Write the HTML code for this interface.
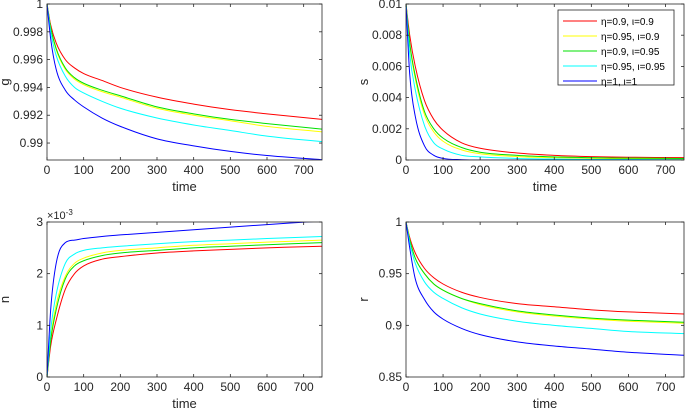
<!DOCTYPE html>
<html><head><meta charset="utf-8"><style>
body{margin:0;background:#fff;}
svg{display:block;font-family:"Liberation Sans",sans-serif;}
</style></head><body>
<svg id="c" width="685" height="409"></svg>
<script>
const times=[0,10,25,50,75,100,150,200,300,400,500,600,750];
const xTicks=[0,100,200,300,400,500,600,700];
const seriesNames=["η=0.9, ι=0.9","η=0.95, ι=0.9","η=0.9, ι=0.95","η=0.95, ι=0.95","η=1, ι=1"];
const colors=["#ff0000","#ffff00","#00e000","#00ffff","#0000ff"];
// g panel
const gRed=[1,.9985,.9972,.9960,.9954,.9950,.9945,.9940,.9933,.9928,.9924,.9921,.9917];
const gYellow=[1,.9983,.9967,.9953,.9946,.9942,.9937,.9933,.9925,.9920,.9916,.9912,.9908];
const gGreen=[1,.9983,.9968,.9954,.9947,.9943,.9938,.9934,.9926,.9921,.9917,.9914,.9910];
const gCyan=[1,.9980,.9963,.9948,.9940,.9936,.9930,.9925,.9918,.9913,.9909,.9905,.9901];
const gBlue=[1,.9975,.9953,.9938,.9931,.9926,.9918,.9912,.9903,.9898,.9894,.9891,.98880];
const gTicks=[0.99,0.992,0.994,0.996,0.998,1];
const gTickLabels=["0.99","0.992","0.994","0.996","0.998","1"];
// s panel
const sRed=[.01,.008,.006,.0038,.0026,.0019,.0011,.00075,.00045,.0003,.00022,.00018,.00015];
const sYellow=[.01,.0074,.0052,.0029,.0018,.0012,.00065,.0004,.00022,.00015,.0001,.00008,.00006];
const sGreen=[.01,.0075,.0054,.0031,.002,.0014,.0008,.0005,.0003,.0002,.00015,.00012,.0001];
const sCyan=[.01,.0068,.0045,.0022,.0011,.0007,.0003,.0002,.0001,.00006,.00004,.00003,.00002];
const sBlue=[.01,.0055,.0028,.0009,.0003,.0001,.00002,0,0,0,0,0,0];
const sTicks=[0,.002,.004,.006,.008,.01];
const sTickLabels=["0","0.002","0.004","0.006","0.008","0.01"];
// n panel (x1e-3)
const nRed=[0,.6,1.1,1.7,2,2.15,2.28,2.33,2.4,2.44,2.47,2.5,2.53];
const nYellow=[0,.75,1.4,1.95,2.2,2.3,2.4,2.45,2.5,2.55,2.58,2.61,2.65];
const nGreen=[0,.7,1.3,1.9,2.15,2.25,2.35,2.4,2.45,2.5,2.53,2.56,2.6];
const nCyan=[0,.9,1.6,2.2,2.38,2.45,2.5,2.53,2.58,2.62,2.65,2.68,2.72];
const nBlue=[0,1.3,2.2,2.6,2.65,2.68,2.72,2.75,2.8,2.85,2.9,2.95,3.02];
const nTicks=[0,1,2,3];
const nTickLabels=["0","1","2","3"];
// r panel
const rRed=[1,.985,.97,.955,.946,.94,.932,.927,.921,.918,.915,.913,.911];
const rYellow=[1,.983,.965,.95,.94,.934,.926,.92,.913,.909,.906,.904,.902];
const rGreen=[1,.983,.965,.95,.94,.934,.926,.921,.914,.910,.907,.905,.903];
const rCyan=[1,.98,.96,.942,.932,.926,.917,.911,.904,.9,.897,.894,.892];
const rBlue=[1,.975,.945,.925,.913,.906,.897,.891,.884,.88,.877,.874,.871];
const rTicks=[.85,.9,.95,1];
const rTickLabels=["0.85","0.9","0.95","1"];

const svg=document.getElementById('c');
const NS="http://www.w3.org/2000/svg";
function mk(tag,a,parent){const e=document.createElementNS(NS,tag);for(const k in a)e.setAttribute(k,a[k]);(parent||svg).appendChild(e);return e;}

// monotone cubic path (Fritsch-Carlson)
function monoPath(xs,ys){
  const n=xs.length,d=[],m=[];
  for(let i=0;i<n-1;i++)d.push((ys[i+1]-ys[i])/(xs[i+1]-xs[i]));
  m[0]=d[0];m[n-1]=d[n-2];
  for(let i=1;i<n-1;i++){m[i]=(d[i-1]*d[i]<=0)?0:(d[i-1]+d[i])/2;}
  for(let i=0;i<n-1;i++){
    if(d[i]===0){m[i]=0;m[i+1]=0;continue;}
    const a=m[i]/d[i],b=m[i+1]/d[i],s=a*a+b*b;
    if(s>9){const t=3/Math.sqrt(s);m[i]=t*a*d[i];m[i+1]=t*b*d[i];}
  }
  let p='M'+xs[0].toFixed(2)+','+ys[0].toFixed(2);
  for(let i=0;i<n-1;i++){
    const h=(xs[i+1]-xs[i])/3;
    p+=' C'+(xs[i]+h).toFixed(2)+','+(ys[i]+m[i]*h).toFixed(2)+' '+(xs[i+1]-h).toFixed(2)+','+(ys[i+1]-m[i+1]*h).toFixed(2)+' '+xs[i+1].toFixed(2)+','+ys[i+1].toFixed(2);
  }
  return p;
}

function panel(name,box,ymin,ymax,series,yt,ytl,ylabel,expo){
  const g=mk('g',{});
  
  
  const X=v=>box.x0+(v-0)/(750)*(box.x1-box.x0);
  const Y=v=>box.y1-(v-ymin)/(ymax-ymin)*(box.y1-box.y0);
  const cp=mk('clipPath',{id:'cp'+name},g);
  mk('rect',{x:box.x0,y:box.y0,width:box.x1-box.x0,height:box.y1-box.y0},cp);
  series.forEach((s,i)=>{
    const p=mk('path',{d:monoPath(times.map(X),s.map(Y)),fill:'none',stroke:colors[i],'stroke-width':1,'clip-path':'url(#cp'+name+')'},g);
    
    
  });
  const fr=mk('rect',{x:box.x0,y:box.y0,width:box.x1-box.x0,height:box.y1-box.y0,fill:'none',stroke:'#262626','stroke-width':0.8},g);
  
  
  xTicks.forEach(t=>{
    const x=X(t);
    mk('line',{x1:x,x2:x,y1:box.y1,y2:box.y1-3,stroke:'#262626','stroke-width':0.8},g);
    mk('line',{x1:x,x2:x,y1:box.y0,y2:box.y0+3,stroke:'#262626','stroke-width':0.8},g);
    const tx=mk('text',{x:x,y:box.y1+14,'text-anchor':'middle','font-size':12,fill:'#262626'},g);
    tx.textContent=t;
    
    
  });
  yt.forEach((t,i)=>{
    const y=Y(t);
    mk('line',{x1:box.x0,x2:box.x0+3,y1:y,y2:y,stroke:'#262626','stroke-width':0.8},g);
    mk('line',{x1:box.x1,x2:box.x1-3,y1:y,y2:y,stroke:'#262626','stroke-width':0.8},g);
    const tx=mk('text',{x:box.x0-4,y:y+4,'text-anchor':'end','font-size':12,fill:'#262626'},g);
    tx.textContent=ytl[i];
    
    
  });
  const xl=mk('text',{x:(box.x0+box.x1)/2,y:box.y1+31,'text-anchor':'middle','font-size':13,fill:'#262626'},g);
  xl.textContent='time';
  
  
  const yc=(box.y0+box.y1)/2;
  const yl=mk('text',{x:box.x0-38,y:yc,'text-anchor':'middle','font-size':13,fill:'#262626',transform:'rotate(-90 '+(box.x0-38)+' '+yc+')'},g);
  yl.textContent=ylabel;
  
  
  if(expo){
    const ex=mk('text',{x:box.x0,y:box.y0-3,'font-size':11,fill:'#262626'},g);
    ex.innerHTML='×10<tspan dy="-4" font-size="8">-3</tspan>';
    
    
  }
}
panel('g',{x0:47,x1:322,y0:4,y1:160},0.98878,1,[gRed,gYellow,gGreen,gCyan,gBlue],gTicks,gTickLabels,'g');
panel('s',{x0:406,x1:684,y0:4,y1:160},0,0.01,[sRed,sYellow,sGreen,sCyan,sBlue],sTicks,sTickLabels,'s');
panel('n',{x0:47,x1:322,y0:222,y1:377},0,3,[nRed,nYellow,nGreen,nCyan,nBlue],nTicks,nTickLabels,'n',true);
panel('r',{x0:406,x1:684,y0:222,y1:377},0.85,1,[rRed,rYellow,rGreen,rCyan,rBlue],rTicks,rTickLabels,'r');

// legend
const lg=mk('g',{});


mk('rect',{x:558,y:10,width:116,height:75,fill:'#fff',stroke:'#262626','stroke-width':0.8},lg);
seriesNames.forEach((n,i)=>{
  const y=21+i*15;
  const e=mk('g',{},lg);
  
  
  mk('line',{x1:563,x2:597,y1:y,y2:y,stroke:colors[i],'stroke-width':1},e);
  const t=mk('text',{x:601,y:y+4,'font-size':10,fill:'#000'},e);
  t.textContent=n;
});
</script>
</body></html>
